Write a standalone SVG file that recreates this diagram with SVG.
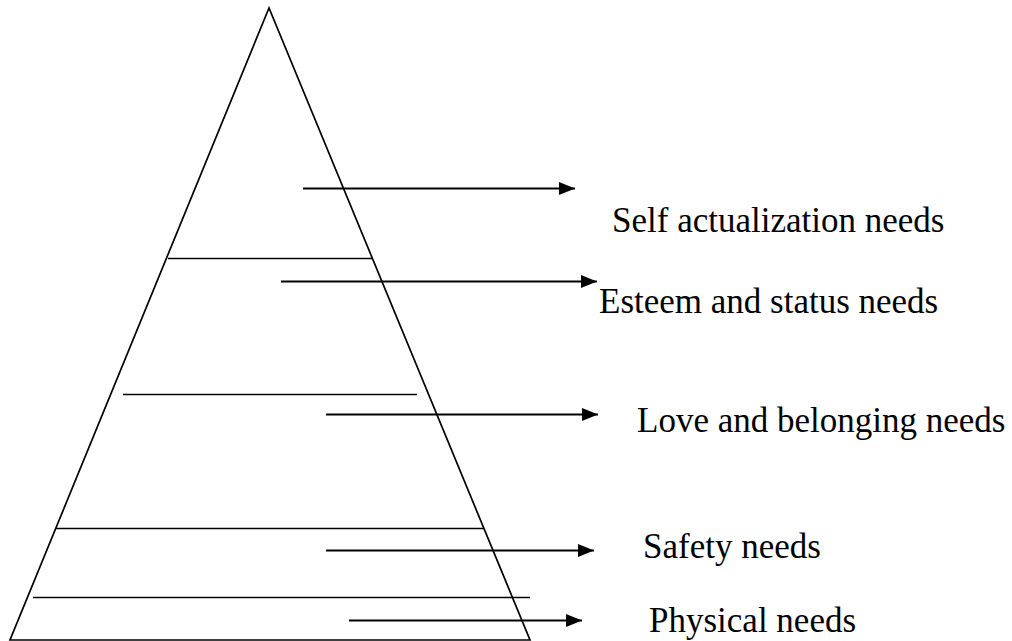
<svg xmlns="http://www.w3.org/2000/svg" width="1012" height="641" viewBox="0 0 1012 641">
<defs>
<marker id="ah" markerUnits="userSpaceOnUse" markerWidth="17" markerHeight="14" refX="16" refY="7" orient="auto">
<path d="M0,0.5 L16,7 L0,13.5 Z" fill="#000"/>
</marker>
<style>
.ln{stroke:#000;stroke-width:1.7;fill:none}
.arr{stroke:#000;stroke-width:1.8;fill:none;marker-end:url(#ah)}
.lbl{font-family:"Liberation Serif","Times New Roman",serif;font-size:35px;fill:#000}
</style>
</defs>
<rect width="1012" height="641" fill="#fff"/>
<g id="pyramid">
<path class="ln" d="M269,8 L10,640 L530,640 Z" stroke-linejoin="miter"/>
<line class="ln" x1="168" y1="258.5" x2="372" y2="258.5"/>
<line class="ln" x1="123" y1="394.5" x2="417" y2="394.5"/>
<line class="ln" x1="56" y1="528.5" x2="484" y2="528.5"/>
<line class="ln" x1="33" y1="597.5" x2="530" y2="597.5"/>
</g>
<g id="connectors">
<line class="arr" x1="303" y1="188.5" x2="575" y2="188.5"/>
<line class="arr" x1="281" y1="281.5" x2="597" y2="281.5"/>
<line class="arr" x1="326" y1="414.5" x2="598" y2="414.5"/>
<line class="arr" x1="326" y1="550.5" x2="594" y2="550.5"/>
<line class="arr" x1="349" y1="620.5" x2="582" y2="620.5"/>
</g>
<g id="self"><text class="lbl" x="612" y="232">Self actualization needs</text></g>
<g id="esteem"><text class="lbl" x="599" y="313">Esteem and status needs</text></g>
<g id="love"><text class="lbl" x="637" y="432">Love and belonging needs</text></g>
<g id="safety"><text class="lbl" x="643" y="558">Safety needs</text></g>
<g id="physical"><text class="lbl" x="649" y="632">Physical needs</text></g>
</svg>
